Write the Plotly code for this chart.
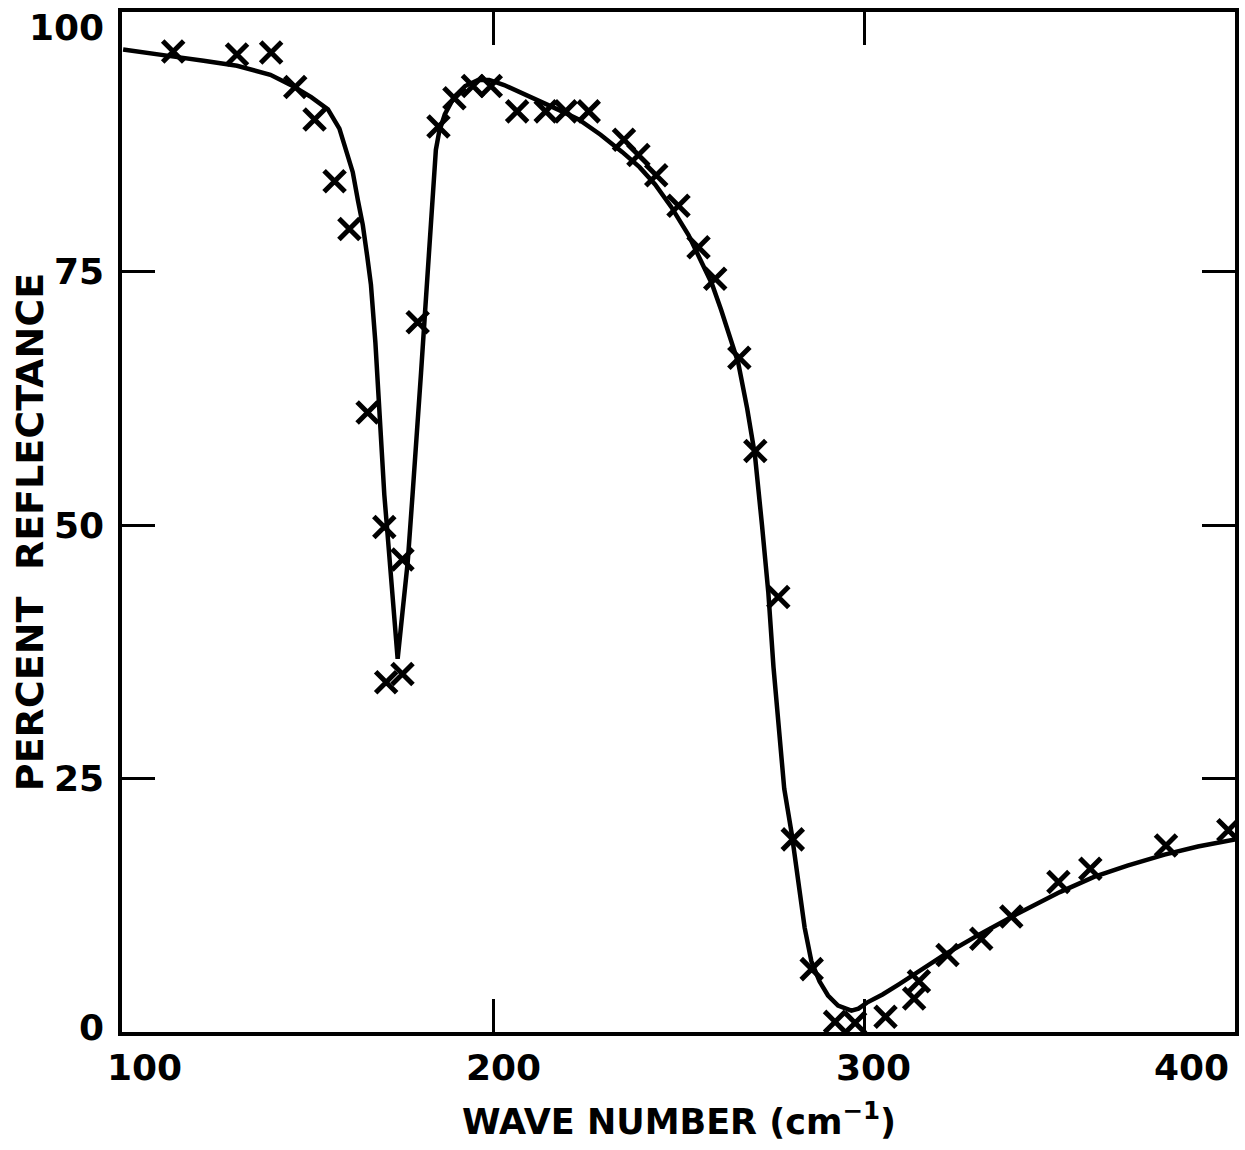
import plotly.graph_objects as go

# Calculated reflectance curve (solid line)
curve_wavenumber = [
    100.3, 107, 114, 122, 131, 140, 146, 151, 155.5, 158.6, 160.5, 162.2, 163.6,
    164.9, 166.1, 167.1, 168.3, 169.3, 169.8, 170.7, 171.6, 172.5, 173.4, 174.3,
    175.6, 177.0, 178.3, 179.7, 180.6, 181.5, 182.3, 183.0, 183.7, 184.6, 185.5,
    187.0, 189.5, 192.5, 196, 199, 203, 208, 212.4, 218, 223.1, 229, 234.8, 239.5,
    243.7, 248, 252.7, 256, 259, 261.5, 263.4, 266.1, 268.5, 270.6, 272.5, 274.2,
    275.6, 276.9, 278.5, 280.5, 282.3, 284, 285.8, 288, 290.3, 293, 296.6, 298.5,
    300.8, 305, 309.4, 315, 322, 331, 340, 352.8, 362, 371, 381, 390, 400,
]
curve_reflectance = [
    96.9, 96.6, 96.2, 95.8, 95.3, 94.4, 93.3, 92.2, 91.0, 89.1, 87.0, 84.8, 82.0,
    79.6, 76.5, 73.7, 68.0, 62.0, 57.8, 53.0, 49.0, 44.7, 40.5, 36.8,
    41.4, 46.3, 52.9, 59.5, 65.0, 70.0, 74.3, 79.0, 82.5, 87.0, 88.8,
    90.5, 92.2, 93.3, 93.9, 93.9, 93.4, 92.6, 91.8, 90.9, 90.0, 88.5, 86.8, 85.3,
    83.6, 81.4, 78.6, 76.2, 73.8, 71.2, 69.0, 66.0, 61.5, 56.9, 50.0, 43.4,
    36.0, 30.3, 24.0, 19.6, 15.0, 10.3, 7.0, 5.0, 3.6, 2.6, 2.1, 2.3,
    2.9, 3.7, 4.7, 6.0, 7.7, 9.6, 11.4, 13.8, 15.3, 16.4, 17.5, 18.3, 19.0,
]

# Measured reflectance (X symbols)
meas_wavenumber = [
    113.8, 131.0, 140.2, 146.7, 151.9, 157.3, 161.3, 166.2, 170.7, 171.2, 175.6,
    175.6, 179.7, 185.3, 189.6, 194.6, 199.4, 206.5, 214.2, 219.6, 225.8, 235.3,
    239.2, 244.0, 250.0, 255.4, 259.9, 266.4, 270.7, 276.9, 280.8, 285.9, 292.2,
    297.6, 305.8, 313.5, 314.8, 322.5, 331.6, 339.7, 352.4, 361.0, 381.4, 398.2,
]
meas_reflectance = [
    96.7, 96.4, 96.6, 93.2, 90.0, 83.9, 79.2, 61.1, 49.8, 34.5, 46.6,
    35.3, 70.0, 89.3, 92.1, 93.3, 93.3, 90.8, 90.8, 90.8, 90.8, 88.0,
    86.5, 84.5, 81.5, 77.4, 74.3, 66.5, 57.3, 42.9, 19.0, 6.2, 1.0,
    0.9, 1.5, 3.3, 5.0, 7.6, 9.2, 11.4, 14.8, 16.1, 18.4, 19.9,
]

x_tick_values = [100, 200, 300, 400]
x_tick_labels = ["100", "200", "300", "400"]
y_tick_values = [0, 25, 50, 75, 100]
y_tick_labels = ["0", "25", "50", "75", "100"]

INK = "black"
FONT = "DejaVu Sans"

fig = go.Figure()
fig.add_trace(go.Scatter(
    x=curve_wavenumber, y=curve_reflectance, mode="lines",
    line=dict(color=INK, width=4.5), showlegend=False,
))
fig.add_trace(go.Scatter(
    x=meas_wavenumber, y=meas_reflectance, mode="markers",
    marker=dict(symbol="x-thin", size=21, line=dict(color=INK, width=5)),
    showlegend=False,
))

# Tick labels placed as annotations so the edge labels sit inside the corners
x_shift = {100: 22, 200: 10, 300: 9, 400: -44}
for v, t in zip(x_tick_values, x_tick_labels):
    fig.add_annotation(
        x=v, y=0, xref="x", yref="y", text=t, showarrow=False,
        xanchor="center", yanchor="middle", xshift=x_shift[v], yshift=-35,
        font=dict(family=FONT, size=36, color=INK, weight="bold"),
    )
y_shift = {0: 5, 25: 0, 50: 0, 75: 0, 100: -9}
for v, t in zip(y_tick_values, y_tick_labels):
    fig.add_annotation(
        x=100, y=v, xref="x", yref="y", text=t, showarrow=False,
        xanchor="right", yanchor="middle", xshift=-16, yshift=y_shift[v],
        font=dict(family=FONT, size=36, color=INK, weight="bold"),
    )

fig.add_annotation(
    x=0.5, y=-0.085, xref="paper", yref="paper", xshift=0,
    text="WAVE NUMBER (cm<sup>−1</sup>)", showarrow=False,
    xanchor="center", yanchor="middle",
    font=dict(family=FONT, size=35, color=INK, weight="bold"),
)
fig.add_annotation(
    x=0, y=0.49, xref="paper", yref="paper", xshift=-92,
    text="PERCENT  REFLECTANCE", showarrow=False, textangle=-90,
    xanchor="center", yanchor="middle",
    font=dict(family=FONT, size=38, color=INK, weight="bold"),
)

axis_common = dict(
    showgrid=False, zeroline=False, showline=True, linecolor=INK, linewidth=4,
    mirror="ticks", ticks="inside", ticklen=33, tickwidth=3, tickcolor=INK,
    showticklabels=False,
)
fig.update_xaxes(range=[100, 400], tickvals=[200, 300], **axis_common)
fig.update_yaxes(range=[0, 100.6], tickvals=[25, 50, 75], **axis_common)

fig.update_layout(
    width=1245, height=1150,
    margin=dict(l=122, r=6, t=12, b=118),
    paper_bgcolor="white", plot_bgcolor="white",
)

fig.write_html("out.html")
